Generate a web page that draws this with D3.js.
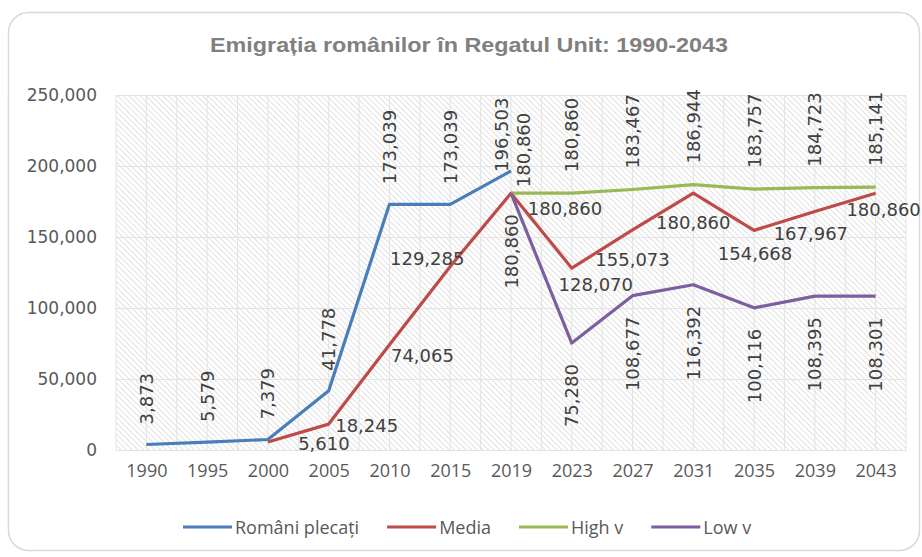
<!DOCTYPE html>
<html>
<head>
<meta charset="utf-8">
<script src="https://cdn.jsdelivr.net/npm/d3@7"></script>
<style>
  body { margin: 0; background: #fff; }
  svg { display: block; }
</style>
</head>
<body>
<div id="chart"></div>
<script>
// categories and series
const years = ["1990","1995","2000","2005","2010","2015","2019","2023","2027","2031","2035","2039","2043"];
const romaniPlecati = [3873, 5579, 7379, 41778, 173039, 173039, 196503, null, null, null, null, null, null];
const media = [null, null, 5610, 18245, 74065, 129285, 180860, 128070, 155073, 180860, 154668, 167967, 180860];
const highV = [null, null, null, null, null, null, 180860, 180860, 183467, 186944, 183757, 184723, 185141];
const lowV = [null, null, null, null, null, null, 180860, 75280, 108677, 116392, 100116, 108395, 108301];
const yTicks = [0, 50000, 100000, 150000, 200000, 250000];
const seriesNames = ["Români plecați", "Media", "High v", "Low v"];

const W = 922, H = 557;
const margin = {top: 95, right: 16, bottom: 107, left: 116};
const width = W - margin.left - margin.right,
      height = H - margin.top - margin.bottom;

const colors = ["#4a7ebb", "#be4b48", "#98b954", "#7d5fa0"];
const labelFont = "'DejaVu Sans', sans-serif";

const svg = d3.select("#chart").append("svg")
    .attr("width", W).attr("height", H);

// hatch pattern for plot background (lines running top-left to bottom-right)
const defs = svg.append("defs");
const pat = defs.append("pattern")
    .attr("id", "hatch").attr("patternUnits", "userSpaceOnUse")
    .attr("width", 4).attr("height", 4)
    .attr("patternTransform", "rotate(-45)");
pat.append("rect").attr("width", 4).attr("height", 4).attr("fill", "#fff");
pat.append("line").attr("x1", 0).attr("y1", 0).attr("x2", 0).attr("y2", 4)
    .attr("stroke", "#d4d4d4").attr("stroke-width", 1.4);

// card
svg.append("rect")
    .attr("x", 8.5).attr("y", 12.5).attr("width", 911).attr("height", 538)
    .attr("rx", 20).attr("fill", "#fff")
    .attr("stroke", "#d9d9d9").attr("stroke-width", 1.5);

// title
svg.append("text")
    .attr("x", 469).attr("y", 52)
    .attr("text-anchor", "middle")
    .attr("textLength", 518).attr("lengthAdjust", "spacingAndGlyphs")
    .attr("font-family", "'Liberation Sans', Arial, sans-serif")
    .attr("font-weight", "bold").attr("font-size", 21)
    .attr("fill", "#808080")
    .text("Emigrația românilor în Regatul Unit: 1990-2043");

const g = svg.append("g").attr("transform", `translate(${margin.left},${margin.top})`);

const x = d3.scalePoint().domain(years).range([0, width]).padding(0.5);
const y = d3.scaleLinear().domain([0, 250000]).range([height, 0]);
const band = x.step();

g.append("rect").attr("width", width).attr("height", height).attr("fill", "url(#hatch)");

// vertical gridlines: at categories and between them
const vlines = d3.range(0, years.length * 2 + 1).map(i => i * band / 2);
g.append("g").selectAll("line").data(vlines).join("line")
    .attr("x1", d => d).attr("x2", d => d)
    .attr("y1", 0).attr("y2", height)
    .attr("stroke", "#e3e3e3").attr("stroke-width", 1);

// y axis with gridlines
const yAxis = g.append("g").call(d3.axisLeft(y).tickValues(yTicks)
    .tickSize(-width).tickPadding(19).tickFormat(d3.format(",")));
yAxis.select(".domain").remove();
yAxis.selectAll(".tick line").attr("stroke", "#e3e3e3").attr("stroke-width", 1.2);
yAxis.selectAll(".tick text")
    .attr("font-family", labelFont).attr("font-size", 17).attr("fill", "#595959");

// x axis
const xAxis = g.append("g").attr("transform", `translate(0,${height})`)
    .call(d3.axisBottom(x).tickSize(0).tickPadding(14));
xAxis.select(".domain").attr("stroke", "#e3e3e3");
xAxis.selectAll(".tick text")
    .attr("font-family", "'Open Sans', sans-serif").attr("font-size", 18)
    .attr("fill", "#595959");

const allSeries = [romaniPlecati, media, highV, lowV];
const line = d3.line()
    .defined(d => d.v !== null)
    .x(d => x(d.year)).y(d => y(d.v));

allSeries.forEach((vals, i) => {
  const pts = years.map((yr, j) => ({year: yr, v: vals[j]}));
  g.append("path").datum(pts)
      .attr("fill", "none").attr("stroke", colors[i])
      .attr("stroke-width", 3.2).attr("stroke-linejoin", "round")
      .attr("d", line);
});

// data labels
const fmt = d3.format(",");
const lblG = g.append("g")
    .attr("font-family", labelFont).attr("font-size", 18).attr("fill", "#404040");

// rotated labels: side -1 above the point, 1 below; tweak = {index: [dx, gap]}
function rotatedLabels(vals, side, gap, tweak) {
  vals.forEach((v, j) => {
    if (v === null) return;
    const t = tweak[j] || [0, gap];
    const px = x(years[j]) + t[0], py = y(v) + side * t[1];
    lblG.append("text")
        .attr("transform", `translate(${px},${py}) rotate(-90)`)
        .attr("text-anchor", side < 0 ? "start" : "end")
        .attr("dominant-baseline", "central")
        .text(fmt(v));
  });
}
rotatedLabels(romaniPlecati, -1, 20, {6: [-10, -1]});
rotatedLabels(highV, -1, 21, {6: [12, 6]});
rotatedLabels(lowV, 1, 21, {});

// horizontal labels for Media, offsets of label centre from the point
const mediaOffsets = [null, null, [56, 1], [38, 1], [33, 11], [-23, -8], [54, 15],
                      [24, 16], [0, 30], [0, 29], [1, 23], [-4, 22], [8, 16]];
media.forEach((v, j) => {
  if (v === null) return;
  const o = mediaOffsets[j];
  lblG.append("text")
      .attr("x", x(years[j]) + o[0]).attr("y", y(v) + o[1])
      .attr("text-anchor", "middle").attr("dominant-baseline", "central")
      .text(fmt(v));
});

// legend
const leg = svg.append("g").attr("transform", "translate(183,527)");
let lx = 0;
seriesNames.forEach((name, i) => {
  const it = leg.append("g").attr("transform", `translate(${lx},0)`);
  it.append("line").attr("x1", 0).attr("x2", 49)
      .attr("stroke", colors[i]).attr("stroke-width", 3.2);
  const t = it.append("text").attr("x", 52).attr("dominant-baseline", "central")
      .attr("font-family", "'Open Sans', sans-serif").attr("font-size", 18)
      .attr("fill", "#595959").text(name);
  lx += 52 + t.node().getComputedTextLength() + 28;
});
</script>
</body>
</html>
